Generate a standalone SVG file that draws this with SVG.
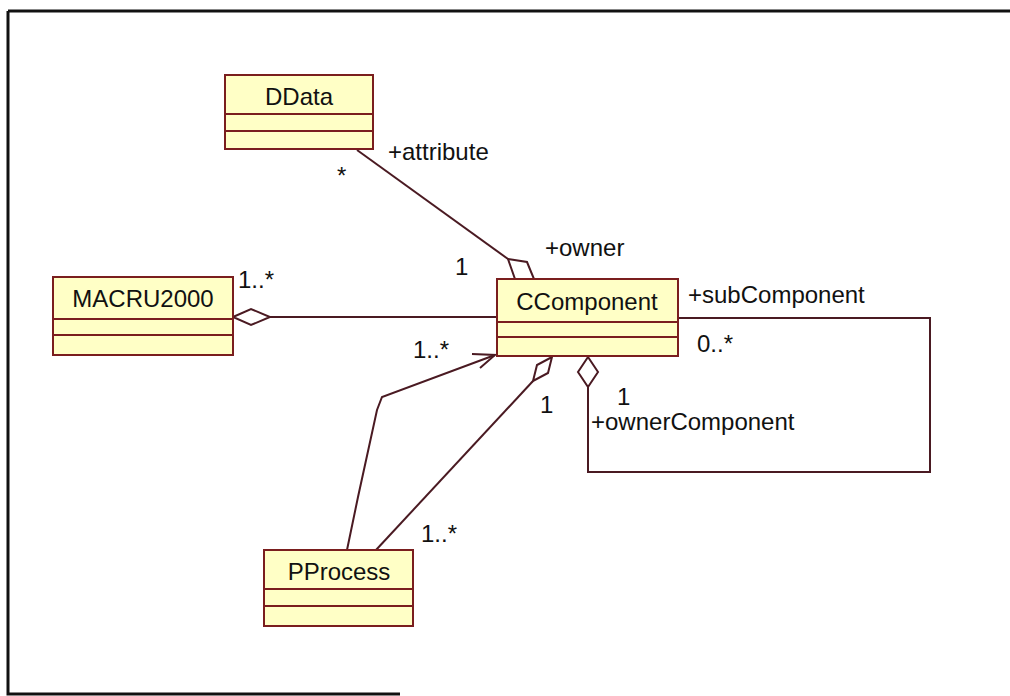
<svg xmlns="http://www.w3.org/2000/svg" width="1010" height="696" viewBox="0 0 1010 696">
<style>
.box{fill:#ffffc6;stroke:#7a1e1e;stroke-width:2}
.div{stroke:#7a1e1e;stroke-width:2}
.ln{fill:none;stroke:#4a1a22;stroke-width:2}
.dia{fill:#ffffff;stroke:#4a1a22;stroke-width:2}
text{font-family:"Liberation Sans",Arial,sans-serif;font-size:24px;fill:#111}
.c{text-anchor:middle}
</style>
<rect width="1010" height="696" fill="#ffffff"/>
<g id="frame" stroke="#111" stroke-width="3" fill="none">
<path d="M8 11 H1010 M8 11 V694 H400"/>
</g>
<g id="connectors">
<!-- DData - CComponent -->
<path class="ln" d="M357 150 L508 259"/>
<polygon class="dia" points="508,259 527,262 534,279 515,279"/>
<!-- MACRU2000 - CComponent -->
<path class="ln" d="M270 317 H497"/>
<polygon class="dia" points="233,317 251,309 270,317 251,325"/>
<!-- PProcess -> CComponent navigable -->
<polyline class="ln" points="347,550 358,497 377,410 382,397 495,355"/>
<path class="ln" d="M472 354 L495 355 L480 368"/>
<!-- PProcess - CComponent aggregation -->
<path class="ln" d="M376 550 L533 381"/>
<polygon class="dia" points="533,381 537,365 552,357 548,373"/>
<!-- self association -->
<polygon class="dia" points="588,357 598,372 588,387 578,372"/>
<path class="ln" d="M588 387 V472 H930 V318 H678"/>
</g>
<g id="DData">
<rect class="box" x="225" y="75" width="148" height="74"/>
<path class="div" d="M225 114 H373 M225 131 H373"/>
<text class="c" x="299" y="105">DData</text>
</g>
<g id="MACRU2000">
<rect class="box" x="53" y="277" width="180" height="78"/>
<path class="div" d="M53 319 H233 M53 335 H233"/>
<text class="c" x="143" y="307">MACRU2000</text>
</g>
<g id="CComponent">
<rect class="box" x="497" y="279" width="181" height="77"/>
<path class="div" d="M497 322 H678 M497 337 H678"/>
<text class="c" x="587" y="310">CComponent</text>
</g>
<g id="PProcess">
<rect class="box" x="264" y="550" width="149" height="76"/>
<path class="div" d="M264 589 H413 M264 606 H413"/>
<text class="c" x="339" y="580">PProcess</text>
</g>
<g id="labels">
<text x="388" y="160">+attribute</text>
<text x="337" y="184">*</text>
<text x="455" y="275">1</text>
<text x="545" y="256">+owner</text>
<text x="238" y="288">1..*</text>
<text x="688" y="303">+subComponent</text>
<text x="697" y="352">0..*</text>
<text x="413" y="358">1..*</text>
<text x="540" y="413">1</text>
<text x="617" y="405">1</text>
<text x="591" y="430">+ownerComponent</text>
<text x="421" y="542">1..*</text>
</g>
</svg>
